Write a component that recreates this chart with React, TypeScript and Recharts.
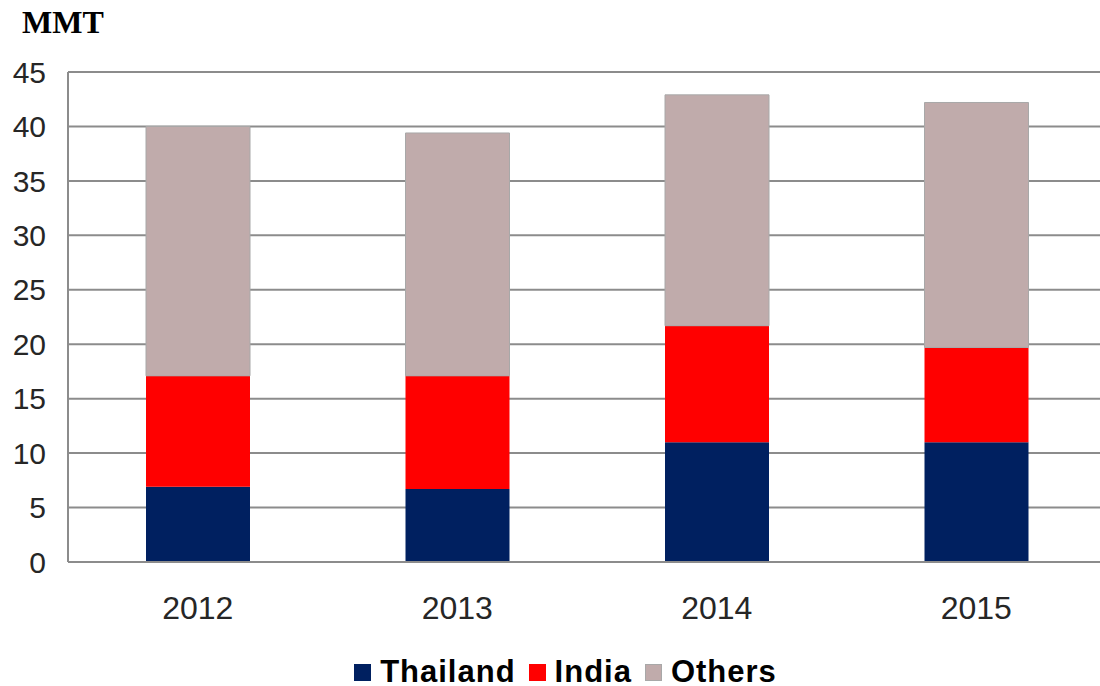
import React from 'react';
import { BarChart, Bar, XAxis, YAxis, CartesianGrid, Legend } from 'recharts';

const years = ['2012', '2013', '2014', '2015'];
const thailand = [6.9, 6.7, 11.0, 11.0];
const india = [10.2, 10.4, 10.7, 8.7];
const others = [22.9, 22.3, 21.2, 22.5];
const yTicks = [0, 5, 10, 15, 20, 25, 30, 35, 40, 45];

const series = [
  { key: 'thailand', name: 'Thailand', color: '#002060' },
  { key: 'india', name: 'India', color: '#ff0000' },
  { key: 'others', name: 'Others', color: '#c0abab' },
];

const data = years.map((year, i) => ({
  year,
  thailand: thailand[i],
  india: india[i],
  others: others[i],
}));

const font = '"Liberation Sans", Arial, Helvetica, sans-serif';

function LegendBox() {
  return (
    <div
      style={{
        height: 36,
        paddingTop: 8,
        paddingLeft: 38,
        display: 'flex',
        justifyContent: 'center',
        alignItems: 'center',
        transform: 'translateY(4px)',
        fontFamily: font,
        fontWeight: 'bold',
        fontSize: 31,
        letterSpacing: 1,
        lineHeight: '36px',
        color: '#000',
      }}
    >
      {series.map(s => (
        <span key={s.key} style={{ display: 'flex', alignItems: 'center', marginRight: 13 }}>
          <span
            style={{
              width: 17,
              height: 17,
              background: s.color,
              border: s.key === 'others' ? '1px solid #a8a8a8' : 'none',
              boxSizing: 'border-box',
              marginRight: 9,
            }}
          />
          {s.name}
        </span>
      ))}
    </div>
  );
}

export default function App() {
  return (
    <div style={{ position: 'relative', width: 1100, height: 686, background: '#fff', overflow: 'hidden' }}>
      <style>{'body{margin:0}'}</style>
      <div
        style={{
          position: 'absolute',
          left: 22,
          top: 6,
          fontFamily: '"Liberation Serif", "Times New Roman", serif',
          fontWeight: 'bold',
          fontSize: 32,
          lineHeight: '32px',
          color: '#000',
        }}
      >
        MMT
      </div>
      <BarChart
        width={1108}
        height={686}
        data={data}
        margin={{ top: 72, right: 2, left: 0, bottom: 0 }}
        barSize={104}
      >
        <CartesianGrid vertical={false} stroke="#8c8c8c" strokeWidth={2} />
        <XAxis
          dataKey="year"
          height={80}
          tickSize={0}
          tickMargin={34}
          axisLine={{ stroke: '#8c8c8c', strokeWidth: 2 }}
          tick={{ fill: '#262626', fontSize: 32, fontFamily: font }}
        />
        <YAxis
          width={68}
          domain={[0, 45]}
          ticks={yTicks}
          interval={0}
          tickSize={0}
          tickMargin={22}
          axisLine={{ stroke: '#8c8c8c', strokeWidth: 2 }}
          tick={{ fill: '#262626', fontSize: 30, fontFamily: font }}
        />
        <Legend verticalAlign="bottom" content={() => <LegendBox />} />
        {series.map(s => (
          <Bar
            key={s.key}
            dataKey={s.key}
            name={s.name}
            stackId="a"
            fill={s.color}
            stroke={s.key === 'others' ? '#a8a8a8' : undefined}
            strokeWidth={s.key === 'others' ? 1 : 0}
            isAnimationActive={false}
          />
        ))}
      </BarChart>
    </div>
  );
}
